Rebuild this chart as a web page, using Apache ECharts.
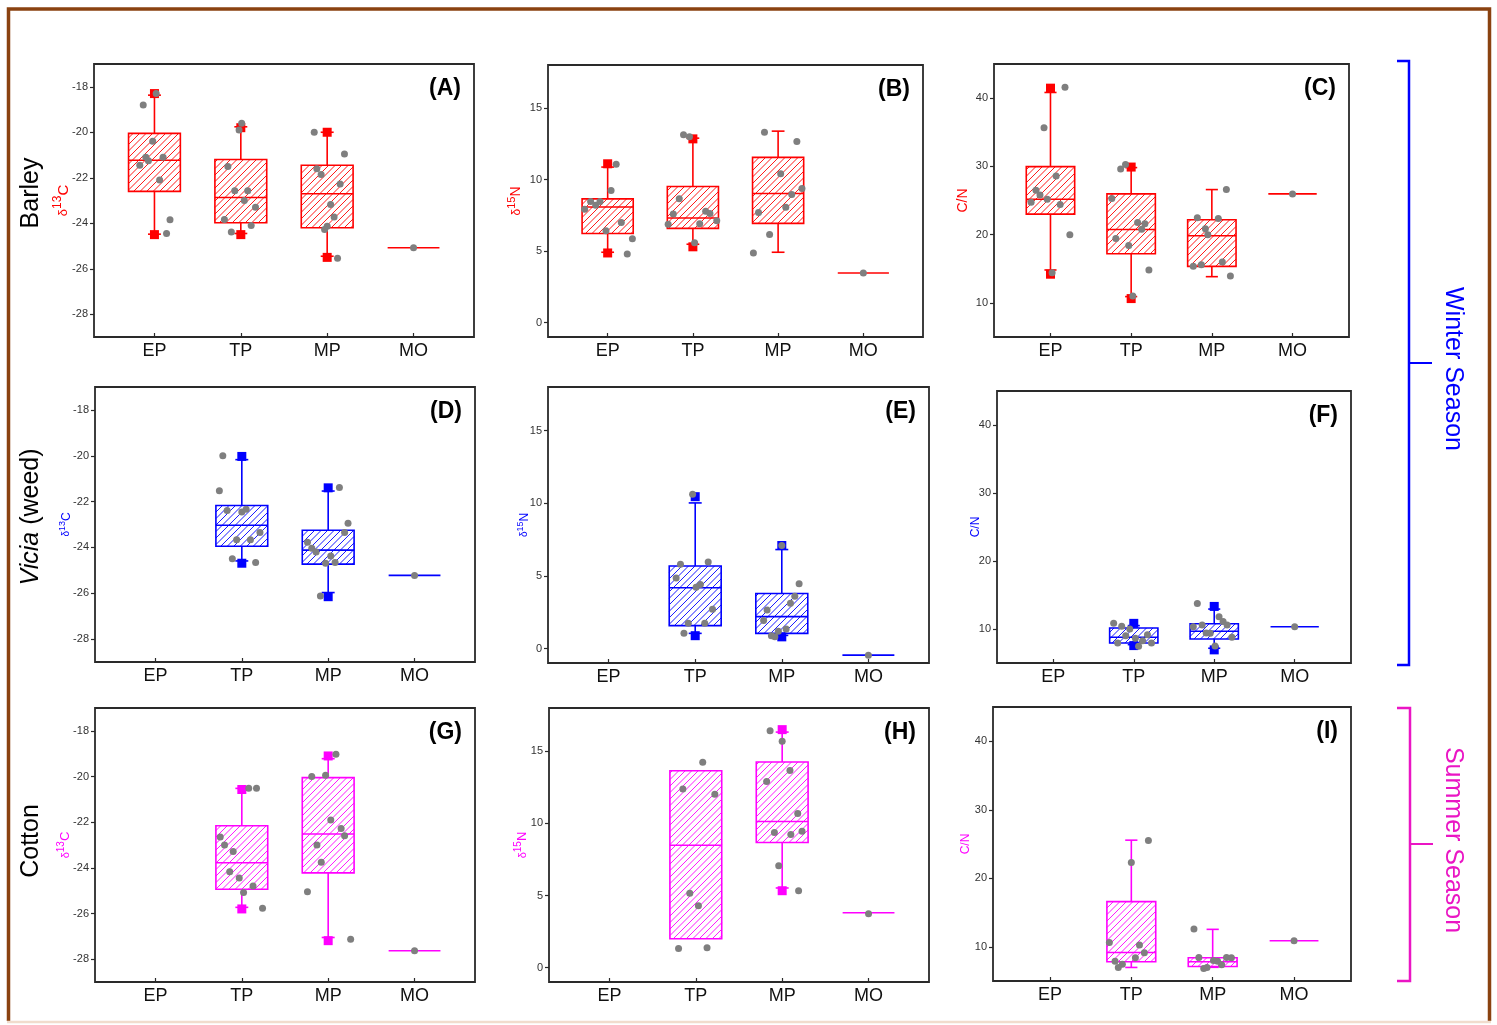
<!DOCTYPE html>
<html><head><meta charset="utf-8">
<script src="https://cdn.jsdelivr.net/npm/echarts@6/dist/echarts.min.js"></script>
<style>html,body{margin:0;padding:0;background:#fff;}#c{width:1497px;height:1025px;}</style>
</head><body><div id="c"></div>
<script>
// ---------------- DATA ----------------
const categories = ['EP', 'TP', 'MP', 'MO'];
const categoryIndex = [1, 2, 3, 4];
const d13CTicks = [-28, -26, -24, -22, -20, -18];
const d15NTicks = [0, 5, 10, 15];
const cnTicks = [10, 20, 30, 40];
const panelLabels = ['(A)', '(B)', '(C)', '(D)', '(E)', '(F)', '(G)', '(H)', '(I)'];
const rowLabels = ['Barley', 'Vicia (weed)', 'Cotton'];
const seasonLabels = ['Winter Season', 'Summer Season'];

// boxes: [category, whiskerLow, q1, median, q3, whiskerHigh]
const boxA = [[1, -24.48, -22.6, -21.23, -20.05, -18.37], [2, -24.45, -23.98, -22.87, -21.2, -19.76], [3, -25.45, -24.2, -22.7, -21.45, -20.0]];
const boxB = [[1, 4.92, 6.23, 8.08, 8.65, 10.87], [2, 5.48, 6.59, 7.31, 9.51, 12.89], [3, 4.92, 6.94, 9.02, 11.55, 13.38]];
const boxC = [[1, 14.82, 23.0, 25.19, 29.97, 40.83], [2, 10.92, 17.2, 20.76, 25.97, 29.82], [3, 13.84, 15.35, 19.83, 22.17, 26.6]];
const boxD = [[2, -24.59, -23.95, -23.03, -22.17, -20.17], [3, -25.97, -24.73, -24.12, -23.25, -21.54]];
const boxE = [[2, 1.04, 1.57, 4.18, 5.68, 10.02], [3, 0.9, 1.04, 2.19, 3.78, 6.81]];
const boxF = [[2, 7.7, 7.95, 8.78, 10.15, 10.5], [3, 7.17, 8.54, 9.66, 10.78, 12.93]];
const boxG = [[2, -25.73, -24.94, -23.78, -22.16, -20.52], [3, -27.05, -24.22, -22.52, -20.05, -19.22]];
const boxH = [[2, 2.0, 2.0, 8.48, 13.65, 13.65], [3, 5.52, 8.67, 10.13, 14.26, 16.33]];
const boxI = [[2, 6.98, 7.8, 9.17, 16.59, 25.56], [3, 7.0, 7.12, 7.8, 8.39, 12.54]];

// single measurement (MO): [category, value]
const singleA = [[4, -25.08]];
const singleB = [[4, 3.47]];
const singleC = [[4, 25.97]];
const singleD = [[4, -25.22]];
const singleE = [[4, -0.46]];
const singleF = [[4, 10.34]];
const singleG = [[4, -27.63]];
const singleH = [[4, 3.8]];
const singleI = [[4, 10.88]];

// min / max markers: [category, value]
const extremeA = [[1, -18.3], [1, -24.5], [2, -19.8], [2, -24.5], [3, -20.0], [3, -25.5]];
const extremeB = [[1, 11.1], [1, 4.87], [2, 12.84], [2, 5.3]];
const extremeC = [[1, 41.46], [1, 14.2], [2, 29.9], [2, 10.63]];
const extremeD = [[2, -20.03], [2, -24.69], [3, -21.4], [3, -26.15]];
const extremeE = [[2, 10.45], [2, 0.88], [3, 7.09], [3, 0.8]];
const extremeF = [[2, 10.83], [2, 7.56], [3, 13.32], [3, 6.93]];
const extremeG = [[2, -20.57], [2, -25.8], [3, -19.1], [3, -27.19]];
const extremeH = [[3, 16.5], [3, 5.33]];
const extremeI = [];

// individual samples: [category, jitter, value]
const pointsA = [
  [1, -0.13, -18.8], [1, 0.02, -18.3], [1, -0.02, -20.4], [1, -0.17, -21.45], [1, -0.10, -21.1], [1, -0.07, -21.25], [1, 0.10, -21.1], [1, 0.06, -22.1], [1, 0.18, -23.85], [1, 0.14, -24.45],
  [2, 0.01, -19.6], [2, -0.02, -19.9], [2, -0.15, -21.5], [2, -0.07, -22.57], [2, 0.08, -22.57], [2, 0.04, -23.0], [2, 0.17, -23.3], [2, -0.19, -23.84], [2, 0.12, -24.1], [2, -0.11, -24.38],
  [3, -0.15, -20.0], [3, 0.2, -20.96], [3, -0.12, -21.6], [3, -0.07, -21.86], [3, 0.15, -22.28], [3, 0.04, -23.18], [3, 0.08, -23.72], [3, 0, -24.13], [3, -0.03, -24.28], [3, 0.12, -25.54],
  [4, 0, -25.08]];
const pointsB = [
  [1, -0.27, 7.92], [1, -0.2, 8.46], [1, -0.14, 8.2], [1, -0.09, 8.46], [1, 0.04, 9.23], [1, 0.1, 11.06], [1, -0.02, 6.42], [1, 0.16, 7.0], [1, 0.29, 5.86], [1, 0.23, 4.8],
  [2, -0.11, 13.12], [2, -0.04, 12.98], [2, -0.16, 8.65], [2, -0.23, 7.59], [2, -0.29, 6.87], [2, 0.08, 6.91], [2, 0.15, 7.78], [2, 0.2, 7.62], [2, 0.28, 7.12], [2, 0.02, 5.58],
  [3, -0.16, 13.31], [3, 0.22, 12.66], [3, 0.03, 10.4], [3, 0.28, 9.37], [3, 0.16, 8.95], [3, 0.09, 8.06], [3, -0.23, 7.69], [3, -0.1, 6.16], [3, -0.29, 4.87],
  [4, 0, 3.47]];
const pointsC = [
  [1, 0.18, 41.6], [1, -0.08, 35.66], [1, 0.07, 28.6], [1, -0.18, 26.5], [1, -0.13, 25.8], [1, -0.24, 24.75], [1, -0.04, 25.2], [1, 0.12, 24.4], [1, 0.24, 20.0], [1, 0.02, 14.4],
  [2, -0.13, 29.6], [2, -0.07, 30.26], [2, -0.24, 25.3], [2, -0.19, 19.44], [2, -0.03, 18.42], [2, 0.08, 21.78], [2, 0.13, 20.8], [2, 0.17, 21.58], [2, 0.22, 14.82], [2, 0.02, 11.0],
  [3, -0.18, 22.47], [3, -0.08, 20.86], [3, 0.08, 22.37], [3, 0.18, 26.6], [3, -0.05, 19.98], [3, -0.23, 15.35], [3, -0.13, 15.6], [3, 0.13, 15.99], [3, 0.23, 13.94],
  [4, 0, 25.97]];
const pointsD = [
  [2, -0.22, -20.0], [2, -0.26, -21.53], [2, -0.17, -22.39], [2, 0, -22.45], [2, 0.05, -22.33], [2, 0.21, -23.35], [2, -0.06, -23.66], [2, 0.1, -23.67], [2, -0.11, -24.49], [2, 0.16, -24.66],
  [3, 0.13, -21.38], [3, 0.23, -22.94], [3, 0.19, -23.35], [3, -0.24, -23.77], [3, -0.19, -24.04], [3, -0.14, -24.2], [3, 0.03, -24.37], [3, -0.03, -24.69], [3, 0.08, -24.66], [3, -0.09, -26.12],
  [4, 0, -25.22]];
const pointsE = [
  [2, -0.03, 10.62], [2, -0.17, 5.79], [2, 0.15, 5.95], [2, -0.22, 4.85], [2, 0.06, 4.41], [2, 0.01, 4.22], [2, 0.2, 2.7], [2, -0.08, 1.73], [2, 0.11, 1.73], [2, -0.13, 1.04],
  [3, 0, 7.09], [3, 0.2, 4.45], [3, 0.15, 3.6], [3, 0.1, 3.12], [3, -0.17, 2.65], [3, -0.21, 1.92], [3, 0.05, 1.34], [3, -0.04, 1.18], [3, -0.12, 0.88], [3, -0.08, 0.81],
  [4, 0, -0.46]];
const pointsF = [
  [2, -0.25, 10.83], [2, -0.15, 10.39], [2, -0.05, 10.0], [2, -0.1, 9.02], [2, 0.17, 9.17], [2, 0.02, 8.63], [2, 0.11, 8.29], [2, -0.2, 7.95], [2, 0.22, 7.95], [2, 0.06, 7.46],
  [3, -0.21, 13.76], [3, 0.06, 11.8], [3, 0.11, 11.12], [3, 0.16, 10.59], [3, -0.26, 10.34], [3, -0.15, 10.59], [3, -0.1, 9.41], [3, -0.05, 9.37], [3, 0.22, 8.78], [3, 0.01, 7.51],
  [4, 0, 10.34]];
const pointsG = [
  [2, 0.08, -20.51], [2, 0.17, -20.51], [2, -0.25, -22.65], [2, -0.2, -23.0], [2, -0.1, -23.28], [2, -0.14, -24.17], [2, -0.03, -24.45], [2, 0.13, -24.8], [2, 0.02, -25.08], [2, 0.24, -25.77],
  [3, 0.09, -19.03], [3, -0.19, -20.0], [3, -0.03, -19.95], [3, 0.03, -21.91], [3, 0.15, -22.28], [3, 0.19, -22.59], [3, -0.13, -23.0], [3, -0.08, -23.76], [3, -0.24, -25.05], [3, 0.26, -27.13],
  [4, 0, -27.63]];
const pointsH = [
  [2, 0.08, 14.23], [2, -0.15, 12.39], [2, 0.22, 12.02], [2, -0.07, 5.15], [2, 0.03, 4.29], [2, -0.2, 1.33], [2, 0.13, 1.37],
  [3, -0.14, 16.42], [3, 0, 15.7], [3, 0.09, 13.67], [3, -0.18, 12.9], [3, 0.18, 10.69], [3, 0.23, 9.46], [3, -0.09, 9.36], [3, 0.1, 9.22], [3, -0.04, 7.06], [3, 0.19, 5.33],
  [4, 0, 3.73]];
const pointsI = [
  [2, 0.21, 25.51], [2, 0, 22.3], [2, -0.27, 10.63], [2, 0.1, 10.24], [2, 0.16, 9.12], [2, 0.05, 8.39], [2, -0.2, 7.9], [2, -0.11, 7.46], [2, -0.16, 6.98],
  [3, -0.23, 12.59], [3, -0.17, 8.44], [3, 0.17, 8.44], [3, 0.23, 8.39], [3, 0.01, 8.0], [3, 0.06, 7.9], [3, 0.11, 7.37], [3, -0.07, 6.98], [3, -0.11, 6.83],
  [4, 0, 10.88]];

// ---------------- STYLE / LAYOUT ----------------
const FONT = '"Liberation Sans", Arial, sans-serif';
const RED = '#ff0000', BLUE = '#0000ff', MAG = '#ff00ff';
const rowColors = [RED, BLUE, MAG];
const layout = [
  [94, 64, 474, 337], [548, 65, 923, 337], [994, 64, 1349, 337],
  [95, 387, 475, 662], [548, 387, 929, 663], [997, 391, 1351, 663],
  [95, 708, 475, 982], [549, 708, 929, 982], [993, 707, 1351, 981]
];
const nameSizes = [15, 14, 14, 12, 12, 12, 13, 13, 12];
const nameGaps = [19, 21, 24, 20, 15, 15, 20, 17, 21];
const boxes = [boxA, boxB, boxC, boxD, boxE, boxF, boxG, boxH, boxI];
const singles = [singleA, singleB, singleC, singleD, singleE, singleF, singleG, singleH, singleI];
const extremes = [extremeA, extremeB, extremeC, extremeD, extremeE, extremeF, extremeG, extremeH, extremeI];
const points = [pointsA, pointsB, pointsC, pointsD, pointsE, pointsF, pointsG, pointsH, pointsI];
const yKinds = [
  {min: -29, max: -17, ticks: d13CTicks, iso: ['13', 'C']},
  {min: -1, max: 18, ticks: d15NTicks, iso: ['15', 'N']},
  {min: 5, max: 45, ticks: cnTicks, iso: null}
];
const HATCH_STEP = 6.5;

function boxRenderer(color) {
  return function (params, api) {
    const c = api.value(0), wl = api.value(1), q1 = api.value(2), md = api.value(3), q3 = api.value(4), wh = api.value(5);
    const hw = 0.3, cw = 0.075;
    const ls = {stroke: color, lineWidth: 1.6, fill: null};
    const hs = {stroke: color, lineWidth: 0.9, fill: null};
    const ch = [];
    const seg = (p, q, st) => ch.push({type: 'line', shape: {x1: p[0], y1: p[1], x2: q[0], y2: q[1]}, style: st || ls});
    if (wh > q3) {
      seg(api.coord([c, q3]), api.coord([c, wh]));
      seg(api.coord([c - cw, wh]), api.coord([c + cw, wh]));
    }
    if (wl < q1) {
      seg(api.coord([c, q1]), api.coord([c, wl]));
      seg(api.coord([c - cw, wl]), api.coord([c + cw, wl]));
    }
    const tl = api.coord([c - hw, q3]), br = api.coord([c + hw, q1]);
    const x0 = tl[0], y0 = tl[1], x1 = br[0], y1 = br[1];
    ch.push({type: 'rect', shape: {x: x0, y: y0, width: x1 - x0, height: y1 - y0},
      style: {fill: '#fff', stroke: null}});
    // diagonal hatching (lines x + y = k)
    const kStart = Math.ceil((x0 + y0) / HATCH_STEP) * HATCH_STEP;
    for (let k = kStart; k <= x1 + y1; k += HATCH_STEP) {
      const xa = Math.max(x0, k - y1), xb = Math.min(x1, k - y0);
      if (xb - xa > 0.5) seg([xa, k - xa], [xb, k - xb], hs);
    }
    ch.push({type: 'rect', shape: {x: x0, y: y0, width: x1 - x0, height: y1 - y0},
      style: {fill: null, stroke: color, lineWidth: 1.6}});
    seg(api.coord([c - hw, md]), api.coord([c + hw, md]));
    return {type: 'group', children: ch};
  };
}
function singleRenderer(color) {
  return function (params, api) {
    const c = api.value(0), v = api.value(1);
    const a = api.coord([c - 0.3, v]), b = api.coord([c + 0.3, v]);
    return {type: 'line', shape: {x1: a[0], y1: a[1], x2: b[0], y2: b[1]}, style: {stroke: color, lineWidth: 1.6}};
  };
}

const grid = [], xAxis = [], yAxis = [], series = [], graphic = [];
for (let i = 0; i < 9; i++) {
  const [l, t, r, b] = layout[i];
  const row = Math.floor(i / 3), col = i % 3;
  const color = rowColors[row];
  const yk = yKinds[col];
  const ns = nameSizes[i];
  grid.push({left: l, top: t, width: r - l, height: b - t, show: true, borderColor: '#2a2a2a', borderWidth: 1.8,
    backgroundColor: 'transparent', containLabel: false, outerBoundsMode: 'none'});
  xAxis.push({
    type: 'value', gridIndex: i, min: 0.3, max: 4.7,
    axisLine: {show: false, onZero: false}, splitLine: {show: false},
    axisTick: {show: true, inside: true, length: 4, customValues: categoryIndex, lineStyle: {color: '#2a2a2a', width: 1.2}},
    axisLabel: {show: true, customValues: categoryIndex, margin: 5, fontSize: 18, fontFamily: FONT, color: '#111',
      formatter: v => categories[Math.round(v) - 1] || ''}
  });
  const nameRich = {
    d: {fontSize: ns - 2, color: color, fontFamily: FONT},
    s: {fontSize: ns - 3, color: color, fontFamily: FONT, padding: [0, 0, Math.round(ns * 0.7), 0]},
    e: {fontSize: ns, color: color, fontFamily: FONT}
  };
  yAxis.push({
    type: 'value', gridIndex: i, min: yk.min, max: yk.max,
    name: yk.iso ? '{d|δ}{s|' + yk.iso[0] + '}{e|' + yk.iso[1] + '}' : 'C/N',
    nameLocation: 'middle', nameGap: nameGaps[i], nameRotate: 90, nameMoveOverlap: false,
    nameTextStyle: {color: color, fontSize: ns, fontFamily: FONT, rich: nameRich},
    axisLine: {show: false, onZero: false}, splitLine: {show: false},
    axisTick: {show: true, inside: false, length: 4, customValues: yk.ticks, lineStyle: {color: '#2a2a2a', width: 1.2}},
    axisLabel: {show: true, customValues: yk.ticks, margin: 6, fontSize: 11, fontFamily: FONT, color: '#333'}
  });
  series.push({
    type: 'custom', xAxisIndex: i, yAxisIndex: i, renderItem: boxRenderer(color),
    encode: {x: 0, y: [1, 2, 3, 4, 5]}, data: boxes[i], z: 2, silent: true
  });
  series.push({
    type: 'custom', xAxisIndex: i, yAxisIndex: i, renderItem: singleRenderer(color),
    encode: {x: 0, y: 1}, data: singles[i], z: 2, silent: true
  });
  series.push({
    type: 'scatter', xAxisIndex: i, yAxisIndex: i, symbol: 'rect', symbolSize: 9,
    itemStyle: {color: color, opacity: 1}, data: extremes[i], z: 3, silent: true
  });
  series.push({
    type: 'scatter', xAxisIndex: i, yAxisIndex: i, symbol: 'circle', symbolSize: 7,
    itemStyle: {color: '#7f7f7f', opacity: 1}, data: points[i].map(p => [p[0] + p[1], p[2]]), z: 4, silent: true
  });
  graphic.push({type: 'text', x: r - 13, y: t + 13, z: 10,
    style: {text: panelLabels[i], fontSize: 23, fontWeight: 'bold', fontFamily: FONT, fill: '#000', textAlign: 'right', textVerticalAlign: 'top'}});
}

// row labels
const rowY = [193, 517, 841];
rowLabels.forEach((lab, k) => {
  const txt = k === 1 ? '{i|Vicia} (weed)' : lab;
  graphic.push({type: 'text', x: 31, y: rowY[k], rotation: Math.PI / 2, z: 10,
    style: {text: txt, fontSize: 25, fontFamily: FONT, fill: '#000', textAlign: 'center', textVerticalAlign: 'middle',
      rich: {i: {fontStyle: 'italic', fontSize: 25, fontFamily: FONT, fill: '#000'}}}});
});

// outer frame
graphic.push({type: 'polyline', z: 1, shape: {points: [[8.5, 1021], [8.5, 9], [1489.5, 9], [1489.5, 1021]]},
  style: {stroke: '#8a4210', lineWidth: 3.5, fill: null}});
graphic.push({type: 'line', z: 1, shape: {x1: 7, y1: 1022, x2: 1491, y2: 1022}, style: {stroke: '#f1dccd', lineWidth: 2.5}});

// season brackets
const SUMMER = '#ea15c4';
graphic.push({type: 'polyline', z: 5, shape: {points: [[1397, 61], [1409, 61], [1409, 665], [1397, 665]]}, style: {stroke: BLUE, lineWidth: 2.5, fill: null}});
graphic.push({type: 'line', z: 5, shape: {x1: 1409, y1: 363, x2: 1432, y2: 363}, style: {stroke: BLUE, lineWidth: 2}});
graphic.push({type: 'polyline', z: 5, shape: {points: [[1397, 708], [1410, 708], [1410, 981], [1397, 981]]}, style: {stroke: SUMMER, lineWidth: 2.5, fill: null}});
graphic.push({type: 'line', z: 5, shape: {x1: 1410, y1: 844, x2: 1433, y2: 844}, style: {stroke: SUMMER, lineWidth: 2}});
graphic.push({type: 'text', x: 1453, y: 369, rotation: -Math.PI / 2, z: 10,
  style: {text: seasonLabels[0], fontSize: 25, fontFamily: FONT, fill: BLUE, textAlign: 'center', textVerticalAlign: 'middle'}});
graphic.push({type: 'text', x: 1453, y: 840, rotation: -Math.PI / 2, z: 10,
  style: {text: seasonLabels[1], fontSize: 25, fontFamily: FONT, fill: SUMMER, textAlign: 'center', textVerticalAlign: 'middle'}});

const chart = echarts.init(document.getElementById('c'), null, {renderer: 'canvas'});
chart.setOption({
  animation: false,
  backgroundColor: '#fff',
  textStyle: {fontFamily: FONT},
  grid, xAxis, yAxis, series, graphic
});
</script></body></html>
